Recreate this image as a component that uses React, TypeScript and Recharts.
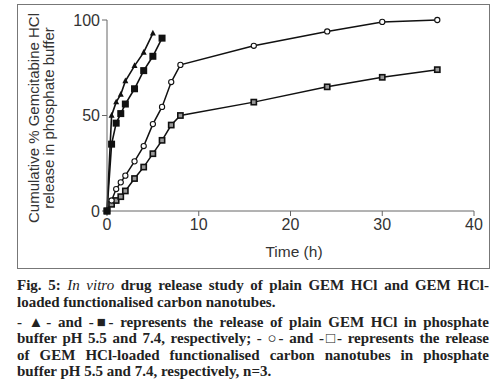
import React from 'react';
import { LineChart, Line, XAxis, YAxis } from 'recharts';

// time points (h)
const timePlain55 = [0, 0.5, 1, 1.5, 2, 3, 4, 5];
const timePlain74 = [0, 0.5, 1, 1.5, 2, 3, 4, 5, 6];
const timeCnt = [0, 0.5, 1, 1.5, 2, 3, 4, 5, 6, 7, 8, 16, 24, 30, 36];

// cumulative % released
const plain55 = [0, 50, 57, 61, 68, 76, 83, 93];
const plain74 = [0, 35, 46, 51, 56, 64, 73.5, 81, 90.5];
const cnt55 = [0, 5.5, 11.5, 15, 18.5, 26, 34, 45.5, 54.5, 67.5, 76.5, 86.5, 94, 99, 100];
const cnt74 = [0, 3.5, 5.5, 7.5, 10.5, 17, 23, 30, 37, 45, 50, 57, 65, 70, 74];

const xTicks = [0, 10, 20, 30, 40];
const yTicks = [0, 50, 100];

const toRows = (times: number[], vals: number[]) => times.map((t, i) => ({ t, v: vals[i] }));

const triangleDot = (p: any) => (
  <path
    key={`tri-${p.index}`}
    d={`M${p.cx},${p.cy - 3.5} L${p.cx + 3},${p.cy + 2.2} L${p.cx - 3},${p.cy + 2.2} Z`}
    fill="#111"
  />
);
const squareDot = (p: any) => (
  <rect key={`sq-${p.index}`} x={p.cx - 3.5} y={p.cy - 3.5} width={7} height={7} fill="#111" />
);
const openSquareDot = (p: any) => (
  <rect key={`osq-${p.index}`} x={p.cx - 2.6} y={p.cy - 2.6} width={5.2} height={5.2} fill="#999" stroke="#111" strokeWidth={1.6} />
);
const circleDot = (p: any) => (
  <circle key={`c-${p.index}`} cx={p.cx} cy={p.cy} r={2.6} fill="#fff" stroke="#111" strokeWidth={1.1} />
);

const tickStyle = { fill: '#333', fontSize: 16, fontFamily: 'Liberation Sans, Arial, sans-serif' };
const capStyle: React.CSSProperties = { height: 16.5, whiteSpace: 'nowrap' };
const justify: React.CSSProperties = { ...capStyle, textAlign: 'justify', textAlignLast: 'justify' };

export default function App() {
  return (
    <div style={{ position: 'absolute', left: 0, top: 0, width: 500, height: 391, background: '#fff' }}>
      <div style={{ position: 'absolute', left: 17, top: 4, width: 471, height: 263, border: '1px solid #777' }} />
      <div style={{ position: 'absolute', left: 0, top: 0 }}>
        <LineChart width={500} height={270} margin={{ top: 20, right: 26, bottom: 29, left: 0 }}>
          <XAxis
            dataKey="t"
            type="number"
            domain={[0, 40]}
            ticks={xTicks}
            allowDuplicatedCategory={false}
            height={30}
            tickSize={5}
            tickMargin={3}
            stroke="#666"
            tick={tickStyle}
          />
          <YAxis
            type="number"
            domain={[0, 100]}
            ticks={yTicks}
            width={107}
            tickSize={5}
            tickMargin={2}
            stroke="#666"
            tick={tickStyle}
          />
          <Line data={toRows(timeCnt, cnt74)} dataKey="v" stroke="#111" strokeWidth={1.5} dot={openSquareDot} isAnimationActive={false} />
          <Line data={toRows(timeCnt, cnt55)} dataKey="v" stroke="#111" strokeWidth={1.5} dot={circleDot} isAnimationActive={false} />
          <Line data={toRows(timePlain74, plain74)} dataKey="v" stroke="#111" strokeWidth={1.6} dot={squareDot} isAnimationActive={false} />
          <Line data={toRows(timePlain55, plain55)} dataKey="v" stroke="#111" strokeWidth={1.6} dot={triangleDot} isAnimationActive={false} />
        </LineChart>
      </div>
      <div
        style={{
          position: 'absolute', left: 40.5, top: 118, transform: 'translate(-50%, -50%) rotate(-90deg)',
          whiteSpace: 'nowrap', fontSize: 15, color: '#333', fontFamily: 'Liberation Sans, Arial, sans-serif', lineHeight: '15px',
          textAlign: 'center',
        }}
      >
        Cumulative % Gemcitabine HCl
        <br />
        release in phosphate buffer
      </div>
      <div
        style={{
          position: 'absolute', left: 294, top: 252, transform: 'translate(-50%, -50%)',
          whiteSpace: 'nowrap', fontSize: 15.5, color: '#333', fontFamily: 'Liberation Sans, Arial, sans-serif',
        }}
      >
        Time (h)
      </div>
      <div
        style={{
          position: 'absolute', left: 17, top: 277, width: 472, fontFamily: 'Liberation Serif, serif',
          fontWeight: 'bold', fontSize: 15, lineHeight: '16.5px', color: '#222',
        }}
      >
        <div style={justify}>Fig. 5: <i style={{ fontWeight: 'normal' }}>In vitro</i> drug release study of plain GEM HCl and GEM HCl-</div>
        <div style={capStyle}>loaded functionalised carbon nanotubes.</div>
        <div style={{ ...justify, marginTop: 3.5 }}>- ▲- and -■- represents the release of plain GEM HCl in phosphate</div>
        <div style={justify}>buffer pH 5.5 and 7.4, respectively; - ○- and -□- represents the release</div>
        <div style={justify}>of GEM HCl-loaded functionalised carbon nanotubes in phosphate</div>
        <div style={capStyle}>buffer pH 5.5 and 7.4, respectively, n=3.</div>
      </div>
    </div>
  );
}
